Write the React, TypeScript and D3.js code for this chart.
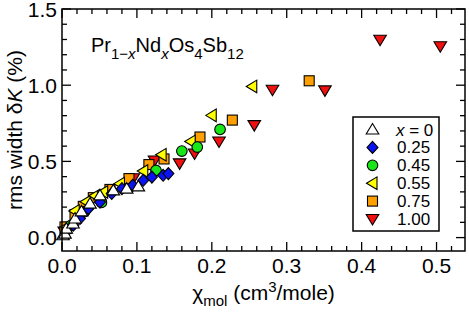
import React from "react";
import * as d3 from "d3";

const seriesLabels = ["x = 0", "0.25", "0.45", "0.55", "0.75", "1.00"];

const x0: [number, number][] = [
  [0.0013, 0.015], [0.004, 0.026], [0.0057, 0.059], [0.0147, 0.092], [0.0174, 0.125],
  [0.026, 0.172], [0.0374, 0.223], [0.0507, 0.277], [0.0685, 0.31], [0.0864, 0.321], [0.1019, 0.336],
];
const x025: [number, number][] = [
  [0.005, 0.035], [0.015, 0.081], [0.024, 0.125], [0.0351, 0.19], [0.0507, 0.233], [0.0664, 0.289],
  [0.08, 0.321], [0.0944, 0.343], [0.1085, 0.376], [0.12, 0.397], [0.135, 0.409], [0.142, 0.42],
];
const x045: [number, number][] = [
  [0.012, 0.08], [0.03, 0.17], [0.0527, 0.231], [0.1255, 0.441], [0.16, 0.568], [0.1806, 0.594], [0.211, 0.71],
];
const x055: [number, number][] = [
  [0.006, 0.07], [0.017, 0.175], [0.032, 0.235], [0.044, 0.275], [0.055, 0.299], [0.0774, 0.354],
  [0.1085, 0.437], [0.133, 0.544], [0.1718, 0.631], [0.1999, 0.802], [0.254, 0.992],
];
const x075: [number, number][] = [
  [0.004, 0.07], [0.0174, 0.151], [0.0284, 0.205], [0.0418, 0.262], [0.064, 0.316], [0.0894, 0.387],
  [0.116, 0.479], [0.1362, 0.516], [0.1842, 0.66], [0.2274, 0.771], [0.33, 1.029],
];
const x100: [number, number][] = [
  [0.003, 0.04], [0.02, 0.15], [0.0952, 0.389], [0.1235, 0.506], [0.157, 0.487], [0.177, 0.552],
  [0.2096, 0.631], [0.2567, 0.738], [0.281, 0.97], [0.351, 0.966], [0.4246, 1.298], [0.505, 1.256],
];

const xMajor = [0, 0.1, 0.2, 0.3, 0.4, 0.5];
const yMajor = [0, 0.5, 1.0, 1.5];

type Shape = "up" | "diamond" | "circle" | "left" | "square" | "down";
const series: { data: [number, number][]; shape: Shape; color: string }[] = [
  { data: x0, shape: "up", color: "#ffffff" },
  { data: x025, shape: "diamond", color: "#0a14f0" },
  { data: x045, shape: "circle", color: "#19e619" },
  { data: x055, shape: "left", color: "#ffff00" },
  { data: x075, shape: "square", color: "#ff9f00" },
  { data: x100, shape: "down", color: "#f01010" },
];

function Marker({ shape, cx, cy, fill }: { shape: Shape; cx: number; cy: number; fill: string }) {
  const p = { fill, stroke: "#000", strokeWidth: 1.1 };
  switch (shape) {
    case "up":
      return <path {...p} d={`M${cx},${cy - 6}L${cx + 6.3},${cy + 4.5}L${cx - 6.3},${cy + 4.5}Z`} />;
    case "down":
      return <path {...p} d={`M${cx},${cy + 6}L${cx + 6.3},${cy - 4.5}L${cx - 6.3},${cy - 4.5}Z`} />;
    case "left":
      return <path {...p} d={`M${cx - 6},${cy}L${cx + 4.5},${cy - 6.3}L${cx + 4.5},${cy + 6.3}Z`} />;
    case "diamond":
      return <path {...p} d={`M${cx},${cy - 6}L${cx + 5.5},${cy}L${cx},${cy + 6}L${cx - 5.5},${cy}Z`} />;
    case "square":
      return <rect {...p} x={cx - 5} y={cy - 5} width={10} height={10} />;
    case "circle":
      return <circle {...p} cx={cx} cy={cy} r={5.3} />;
  }
}

export default function App() {
  const W = 469, H = 313;
  const L = 62, R = 465, T = 9, B = 251;
  const x = d3.scaleLinear().domain([0, 0.538]).range([L, R]);
  const y = d3.scaleLinear().domain([-0.088, 1.5]).range([B, T]);
  const xMinor = d3.range(0, 0.54, 0.02).filter((v) => v <= 0.538);
  const yMinor = d3.range(0, 1.501, 0.1);
  const font = "Liberation Sans, Arial, Helvetica, sans-serif";
  const drawOrder = [...series].reverse();
  const legX = 353, legY = 117, legW = 86, legH = 114;
  return (
    <svg width={W} height={H} style={{ position: "absolute", left: 0, top: 0 }} fontFamily={font}>
      <rect x={0} y={0} width={W} height={H} fill="#fff" />
      {xMinor.map((v, i) => {
        const major = Math.abs(Math.round(v * 10) - v * 10) < 1e-6;
        const len = major ? 9 : 5;
        return (
          <g key={"xt" + i} stroke="#000" strokeWidth={1.3}>
            <line x1={x(v)} x2={x(v)} y1={B} y2={B - len} />
            <line x1={x(v)} x2={x(v)} y1={T} y2={T + len} />
          </g>
        );
      })}
      {yMinor.map((v, i) => {
        const major = i % 5 === 0;
        const len = major ? 9 : 5;
        return (
          <g key={"yt" + i} stroke="#000" strokeWidth={1.3}>
            <line x1={L} x2={L + len} y1={y(v)} y2={y(v)} />
            <line x1={R} x2={R - len} y1={y(v)} y2={y(v)} />
          </g>
        );
      })}
      {xMajor.map((v) => (
        <text key={"xl" + v} x={x(v)} y={273} fontSize={21} textAnchor="middle">
          {d3.format(".1f")(v)}
        </text>
      ))}
      {yMajor.map((v) => (
        <text key={"yl" + v} x={57} y={y(v) + 7.5} fontSize={21} textAnchor="end">
          {d3.format(".1f")(v)}
        </text>
      ))}
      {drawOrder.map((s, si) =>
        s.data.map((d, i) => (
          <Marker key={si + "-" + i} shape={s.shape} cx={x(d[0])} cy={y(d[1])} fill={s.color} />
        ))
      )}
      <rect x={L} y={T} width={R - L} height={B - T} fill="none" stroke="#000" strokeWidth={1.5} />
      <text x={91} y={52} fontSize={20}>
        Pr<tspan fontSize={15} dy={7}>1−</tspan><tspan fontSize={15} fontStyle="italic">x</tspan>
        <tspan dy={-7}>Nd</tspan><tspan fontSize={15} dy={7} fontStyle="italic">x</tspan>
        <tspan dy={-7}>Os</tspan><tspan fontSize={15} dy={7}>4</tspan>
        <tspan dy={-7}>Sb</tspan><tspan fontSize={15} dy={7}>12</tspan>
      </text>
      <rect x={legX} y={legY} width={legW} height={legH} fill="#fff" stroke="#000" strokeWidth={1.5} />
      {series.map((s, i) => {
        const cy = 129.5 + i * 17.9;
        return (
          <g key={"lg" + i}>
            <Marker shape={s.shape} cx={372.5} cy={cy} fill={s.color} />
            <text x={i === 0 ? 396 : 397} y={cy + 6} fontSize={17}>
              {i === 0 ? (
                <>
                  <tspan fontStyle="italic">x</tspan> = 0
                </>
              ) : (
                seriesLabels[i]
              )}
            </text>
          </g>
        );
      })}
      <text x={(L + R) / 2} y={300} fontSize={21} textAnchor="middle">
        χ<tspan fontSize={15} dy={6}>mol</tspan>
        <tspan dy={-6}> (cm</tspan><tspan fontSize={15} dy={-8}>3</tspan>
        <tspan dy={8}>/mole)</tspan>
      </text>
      <text transform={`translate(22,${(T + B) / 2}) rotate(-90)`} fontSize={21} textAnchor="middle">
        rms width δ<tspan fontStyle="italic">K</tspan> (%)
      </text>
    </svg>
  );
}
